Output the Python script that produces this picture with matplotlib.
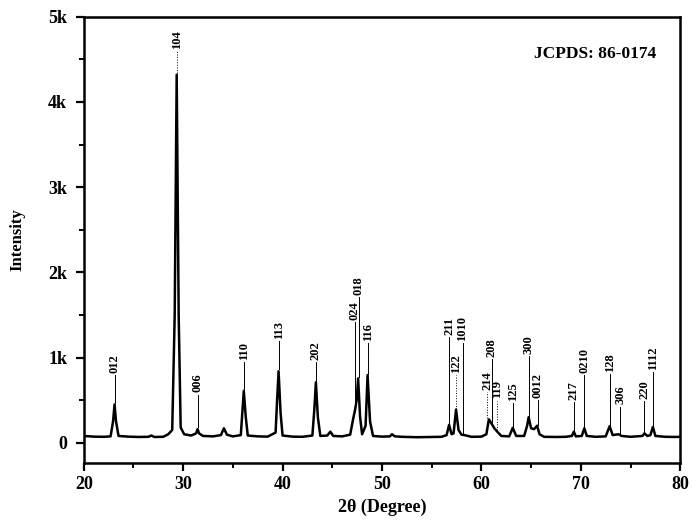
import matplotlib
matplotlib.use("Agg")
import matplotlib.pyplot as plt
from matplotlib.ticker import MultipleLocator

plt.rcParams['font.family'] = ['Liberation Serif', 'DejaVu Serif']
plt.rcParams['font.weight'] = 'bold'

# XRD trace (2theta in degrees, intensity in counts)
two_theta = [20.0, 21.0, 22.0, 22.7, 22.95, 23.1, 23.25, 23.5, 24.5, 25.5, 26.5, 26.8, 27.1,
             28.0, 28.5, 28.9, 29.15, 29.35, 29.55, 29.75, 30.1, 30.8, 31.3, 31.45, 31.6,
             32.0, 33.0, 33.8, 34.1, 34.4, 35.0, 35.8, 35.95, 36.1, 36.3, 36.5, 37.5, 38.5,
             39.3, 39.45, 39.6, 39.8, 40.0, 41.0, 42.0, 43.0, 43.2, 43.35, 43.55, 43.8,
             44.5, 44.8, 45.1, 46.0, 46.8, 47.1, 47.3, 47.45, 47.6, 47.8, 48.0, 48.35,
             48.55, 48.8, 49.1, 50.0, 50.8, 51.0, 51.3, 52.0, 53.5, 55.0, 56.0, 56.5,
             56.75, 57.0, 57.2, 57.45, 57.7, 58.0, 58.3, 59.0, 60.0, 60.5, 60.75, 61.0,
             61.3, 61.6, 62.0, 62.8, 63.15, 63.5, 64.3, 64.6, 64.75, 65.0, 65.3, 65.6,
             65.85, 66.3, 67.5, 68.5, 69.1, 69.3, 69.5, 70.1, 70.35, 70.6, 71.5, 72.5,
             72.9, 73.2, 73.8, 74.1, 75.0, 76.2, 76.4, 76.7, 77.0, 77.25, 77.5, 78.5,
             79.5, 80.0]
intensity = [80, 72, 70, 75, 250, 450, 250, 80, 72, 68, 70, 85, 68,
             70, 100, 150, 1500, 4320, 1500, 180, 100, 85, 110, 160, 110,
             80, 75, 90, 170, 95, 75, 90, 350, 610, 300, 85, 75, 72,
             120, 500, 840, 350, 85, 72, 70, 85, 400, 710, 300, 80,
             85, 130, 80, 75, 95, 280, 390, 500, 755, 300, 100, 200,
             795, 250, 80, 72, 75, 100, 75, 70, 65, 68, 70, 90,
             210, 100, 110, 390, 150, 95, 90, 70, 72, 100, 275, 230,
             170, 130, 80, 75, 175, 80, 80, 200, 300, 170, 160, 200,
             100, 70, 68, 70, 80, 130, 75, 80, 170, 80, 70, 75,
             195, 90, 100, 80, 70, 80, 110, 80, 90, 185, 80, 70,
             68, 70]

# Miller index labels (JCPDS 86-0174)
hkl_labels = ['012', '104', '006', '110', '113', '202', '024', '018', '116',
              '211', '122', '1010', '214', '208', '119', '125', '300', '0012',
              '217', '0210', '128', '306', '220', '1112']
label_pos = [23.1, 29.35, 31.45, 36.1, 39.6, 43.35, 47.25, 47.65, 48.55,
             56.75, 57.45, 58.1, 60.6, 61.05, 61.6, 63.15, 64.75, 65.65,
             69.3, 70.35, 72.9, 73.95, 76.4, 77.25]
line_bottom = [470, 4340, 180, 630, 860, 730, 400, 770, 810,
               230, 400, 110, 290, 230, 150, 190, 320, 210,
               140, 180, 210, 120, 120, 200]
label_bottom = [820, 4620, 590, 975, 1220, 970, 1440, 1740, 1200,
                1270, 820, 1200, 620, 1010, 520, 490, 1040, 530,
                500, 820, 830, 450, 510, 850]
line_style = ['-', ':', '-', '-', '-', '-', '-', '-', '-',
              '-', ':', '-', ':', '-', ':', '-', '-', '-',
              '-', '-', '-', '-', '-', '-']

x_ticks = [20, 30, 40, 50, 60, 70, 80]
y_ticks = [0, 1000, 2000, 3000, 4000, 5000]
y_tick_labels = ['0', '1k', '2k', '3k', '4k', '5k']

fig = plt.figure(figsize=(6.92, 5.24), dpi=100)
ax = fig.add_axes([0.121, 0.116, 0.862, 0.852])

ax.plot(two_theta, intensity, color='black', lw=1.8, solid_joinstyle='round')

for lab, xp, lb, tb, ls in zip(hkl_labels, label_pos, line_bottom, label_bottom, line_style):
    ax.plot([xp, xp], [lb, tb - 25], color='black', lw=0.7, ls=ls)
    ax.text(xp, tb, lab, rotation=90, ha='center', va='bottom', fontsize=9,
            fontweight='bold')

ax.text(77.6, 4560, 'JCPDS: 86-0174', ha='right', va='center', fontsize=12.5,
        fontweight='bold')

ax.set_xlim(20, 80)
ax.set_ylim(-240, 5000)
ax.set_xticks(x_ticks)
ax.set_yticks(y_ticks)
ax.set_yticklabels(y_tick_labels)
ax.xaxis.set_minor_locator(MultipleLocator(5))
ax.yaxis.set_minor_locator(MultipleLocator(500))
ax.tick_params(axis='both', which='major', direction='out', length=6, width=1.6,
               labelsize=13, top=False, right=False)
ax.tick_params(axis='y', which='major', pad=6)
ax.tick_params(axis='both', which='minor', direction='out', length=3.5, width=1.4,
               top=False, right=False)
for lbl in ax.get_xticklabels() + ax.get_yticklabels():
    lbl.set_fontweight('bold')
for sp in ax.spines.values():
    sp.set_linewidth(1.8)

ax.set_xlabel('2θ (Degree)', fontsize=13, fontweight='bold', labelpad=4)
ax.set_ylabel('Intensity', fontsize=12, fontweight='bold', labelpad=16)

fig.savefig('out.png', dpi=100)
